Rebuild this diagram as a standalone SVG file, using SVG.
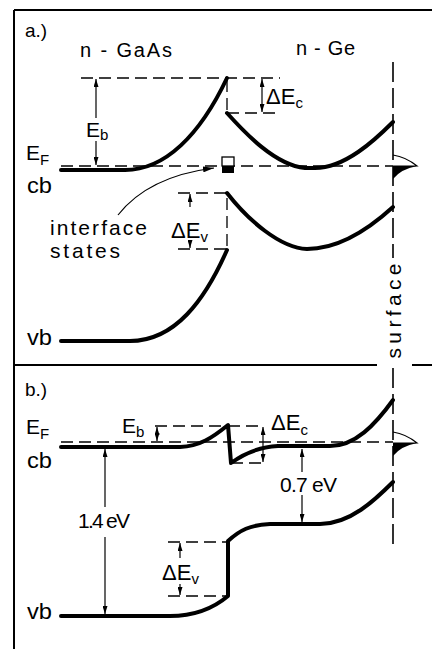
<svg xmlns="http://www.w3.org/2000/svg" width="432" height="649" viewBox="0 0 432 649">
<style>
  text { font-family: "Liberation Sans", Arial, sans-serif; fill: #000; }
  .lbl { font-size: 21px; }
  .sub { font-size: 15px; }
  .band { fill: none; stroke: #000; stroke-width: 4; stroke-linecap: round; stroke-linejoin: round; }
  .dash { fill: none; stroke: #000; stroke-width: 1.3; stroke-dasharray: 12 6; }
  .frame { fill: none; stroke: #000; stroke-width: 2; }
  .surf { fill: none; stroke: #000; stroke-width: 1.6; stroke-dasharray: 20 6; }
  .dim { fill: none; stroke: #000; stroke-width: 1.2; }
</style>
<defs>
  <marker id="ah" viewBox="0 0 10 10" refX="10" refY="5" markerWidth="8" markerHeight="5" preserveAspectRatio="none" orient="auto-start-reverse" markerUnits="userSpaceOnUse">
    <path d="M0,0 L10,5 L0,10 z" fill="#000"/>
  </marker>
  <marker id="ahl" viewBox="0 0 10 10" refX="10" refY="5" markerWidth="11" markerHeight="6" preserveAspectRatio="none" orient="auto" markerUnits="userSpaceOnUse">
    <path d="M0,0 L10,5 L0,10 z" fill="#000"/>
  </marker>
</defs>

<g id="frame">
  <path class="frame" d="M14,10 L432,10 M14,10 L14,649 M14,365 L377,365 M412,365 L432,365"/>
</g>

<!-- ================= Panel a ================= -->
<g id="panel-a-labels">
  <text id="a-title" x="25" y="37" font-size="19">a.)</text>
  <text id="gaas-label" x="80" y="57" font-size="20" textLength="92" lengthAdjust="spacing">n - GaAs</text>
  <text id="ge-label" x="296" y="55" font-size="20" textLength="59" lengthAdjust="spacing">n - Ge</text>
  <text id="a-EF" x="26" y="160" class="lbl">E<tspan class="sub" dy="5">F</tspan></text>
  <text id="a-cb" x="27" y="193" font-size="22" textLength="25" lengthAdjust="spacingAndGlyphs">cb</text>
  <text id="a-vb" x="27" y="345" font-size="22" textLength="25" lengthAdjust="spacingAndGlyphs">vb</text>
  <text id="a-Eb" x="86" y="137" class="lbl">E<tspan class="sub" dy="3">b</tspan></text>
  <text id="a-dEc" x="266" y="104" font-size="22">ΔE<tspan class="sub" dy="4">c</tspan></text>
  <text id="a-dEv" x="171" y="238" font-size="22">ΔE<tspan class="sub" dy="4">v</tspan></text>
  <text id="interface-label" x="50" y="235" class="lbl" textLength="97" lengthAdjust="spacing">interface</text>
  <text id="states-label" x="50" y="258" class="lbl" textLength="70" lengthAdjust="spacing">states</text>
</g>

<g id="panel-a-guides">
  <path class="dash" d="M81,78 L280,78"/>
  <path class="dash" d="M61,166 L393,166"/>
  <path class="dash" d="M227,80 L227,113 M227,113 L280,113"/>
  <path class="dash" d="M178,193 L227,193 L227,250 M178,249 L227,249"/>
</g>

<g id="panel-a-bands">
  <path id="a-gaas-cb" class="band" d="M61,170 L125,170 C165,170 200,135 227,78"/>
  <path id="a-ge-cb" class="band" d="M227,113 C245,133 275,165 305,168 L315,168 C345,168 375,140 393,122"/>
  <path id="a-gaas-vb" class="band" d="M61,341 L130,341 C175,341 205,300 227,250"/>
  <path id="a-ge-vb" class="band" d="M227,193 C248,220 280,248 307,249 C340,249 370,228 393,207"/>
</g>

<g id="interface-states">
  <rect x="222" y="157" width="12" height="9" fill="#fff" stroke="#000" stroke-width="1.3"/>
  <rect x="222" y="166" width="12" height="7" fill="#000"/>
</g>

<g id="a-surface-states">
  <path d="M393,155 Q406,157 417,166 L393,166" fill="none" stroke="#000" stroke-width="1.2"/>
  <path d="M393,166 L417,166 Q401,169 393,179 Z" fill="#000"/>
</g>

<!-- ================= Panel b ================= -->
<g id="panel-b-labels">
  <text id="b-title" x="25" y="396" font-size="19">b.)</text>
  <text id="b-EF" x="26" y="434" class="lbl">E<tspan class="sub" dy="5">F</tspan></text>
  <text id="b-cb" x="27" y="468" font-size="22" textLength="25" lengthAdjust="spacingAndGlyphs">cb</text>
  <text id="b-vb" x="27" y="619" font-size="22" textLength="25" lengthAdjust="spacingAndGlyphs">vb</text>
  <text id="b-Eb" x="122" y="433" class="lbl">E<tspan class="sub" dy="4">b</tspan></text>
  <text id="b-dEc" x="271" y="430" font-size="22">ΔE<tspan class="sub" dy="5">c</tspan></text>
  <text id="b-dEv" x="162" y="580" font-size="22">ΔE<tspan class="sub" dy="4">v</tspan></text>
  <text id="b-07" x="280" y="492" class="lbl" textLength="57" lengthAdjust="spacing">0.7 eV</text>
  <text id="b-14" x="78" y="528" class="lbl" textLength="52" lengthAdjust="spacing">1.4 eV</text>
</g>

<g id="panel-b-guides">
  <path class="dash" d="M61,442 L393,442"/>
  <path class="dash" d="M155,426 L228,426 M228,426 L264,426 M231,463 L264,463"/>
  <path class="dash" d="M168,542 L228,542 M168,596 L228,596"/>
</g>

<g id="panel-b-bands">
  <path id="b-cb-line" class="band" d="M61,447 L180,447 C200,446 212,438 228,425 L231,463 C242,455 257,447 278,446 L330,446 C355,446 375,425 393,400"/>
  <path id="b-vb-line" class="band" d="M61,616 L170,616 C195,616 215,607 228,596 L228,541 C240,530 250,525 270,524 L320,524 C350,524 375,500 393,482"/>
</g>

<g id="b-surface-states">
  <path d="M393,432 Q406,434 417,443 L393,443" fill="none" stroke="#000" stroke-width="1.2"/>
  <path d="M393,443 L417,443 Q401,446 393,456 Z" fill="#000"/>
</g>

<g id="surface">
  <path class="surf" d="M393,62 L393,258 M393,368 L393,548"/>
  <text transform="translate(401,311) rotate(-90)" text-anchor="middle" font-size="21" textLength="95" lengthAdjust="spacing">surface</text>
</g>

<g id="connectors">
  <!-- panel a -->
  <path class="dim" d="M96,118 L96,79" marker-end="url(#ah)"/>
  <path class="dim" d="M96,141 L96,165" marker-end="url(#ah)"/>
  <path class="dim" d="M262,79 L262,112" marker-start="url(#ah)" marker-end="url(#ah)"/>
  <path class="dim" d="M190,207 L190,194" marker-end="url(#ah)"/>
  <path class="dim" d="M190,240 L190,248" marker-end="url(#ah)"/>
  <path class="dim" d="M118,215 C140,187 175,173 214,168" marker-end="url(#ahl)"/>
  <!-- panel b -->
  <path class="dim" d="M157,427 L157,441" marker-start="url(#ah)" marker-end="url(#ah)"/>
  <path class="dim" d="M263,427 L263,462" marker-start="url(#ah)" marker-end="url(#ah)"/>
  <path class="dim" d="M302,472 L302,449" marker-end="url(#ah)"/>
  <path class="dim" d="M302,495 L302,522" marker-end="url(#ah)"/>
  <path class="dim" d="M105,507 L105,449" marker-end="url(#ah)"/>
  <path class="dim" d="M105,537 L105,614" marker-end="url(#ah)"/>
  <path class="dim" d="M180,558 L180,543" marker-end="url(#ah)"/>
  <path class="dim" d="M180,584 L180,595" marker-end="url(#ah)"/>
</g>
</svg>
